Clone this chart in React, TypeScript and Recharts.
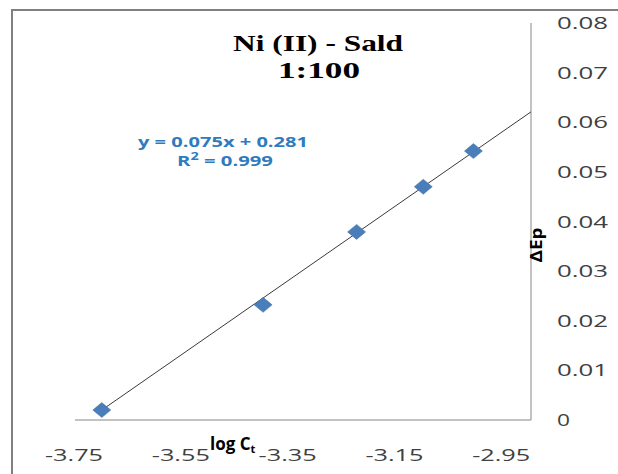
import React from 'react';
import { ScatterChart, Scatter, XAxis, YAxis } from 'recharts';

const xTicks = [-3.75, -3.55, -3.35, -3.15, -2.95];
const yTicks = [0, 0.01, 0.02, 0.03, 0.04, 0.05, 0.06, 0.07, 0.08];
const logC = [-3.703, -3.42, -3.256, -3.139, -3.051];
const deltaEp = [0.002, 0.0232, 0.0379, 0.047, 0.0542];
const trendX = [-3.703, -2.95];
const trendY = [0.002, 0.0621];

const points = logC.map((x, i) => ({ x, y: deltaEp[i] }));
const trend = trendX.map((x, i) => ({ x, y: trendY[i] }));

const W = 618;
const H = 474;

const Diamond = (props: any) => {
  const { cx, cy } = props;
  if (cx == null || cy == null) return <g />;
  const hw = 9;
  const hh = 7.5;
  return (
    <polygon
      points={`${cx - hw},${cy} ${cx},${cy - hh} ${cx + hw},${cy} ${cx},${cy + hh}`}
      fill="#4A7EBB"
      stroke="#3F6FA8"
      strokeWidth={0.5}
    />
  );
};

const NoShape = () => <g />;

const XTick = (props: any) => {
  const { x, y, payload, index } = props;
  const label = String(payload.value.toFixed(2));
  return (
    <text
      x={x - index * 7.2 - 1}
      y={y + 33}
      textAnchor="middle"
      fontFamily="Open Sans"
      fontSize={16}
      fill="#404040"
      textLength={58}
      lengthAdjust="spacingAndGlyphs"
    >
      {label}
    </text>
  );
};

const YTick = (props: any) => {
  const { x, y, payload } = props;
  const v = payload.value;
  const label = v === 0 ? '0' : v.toFixed(2);
  return (
    <text
      x={x + 18}
      y={y + 6}
      textAnchor="start"
      fontFamily="Open Sans"
      fontSize={16}
      fill="#404040"
      textLength={v === 0 ? 13 : 51}
      lengthAdjust="spacingAndGlyphs"
    >
      {label}
    </text>
  );
};

export default function App() {
  return (
    <div style={{ position: 'absolute', left: 0, top: 0, width: W, height: H, background: '#fff', overflow: 'hidden' }}>
      <div
        style={{
          position: 'absolute',
          left: 11,
          top: 9,
          width: W,
          height: H,
          borderTop: '2px solid #808080',
          borderLeft: '2px solid #808080',
          boxSizing: 'border-box',
        }}
      />
      <div style={{ position: 'absolute', left: 0, top: 0 }}>
        <ScatterChart width={W} height={H} margin={{ top: 23, right: 0, left: 75, bottom: 0 }}>
          <XAxis
            type="number"
            dataKey="x"
            domain={[-3.75, -2.95]}
            ticks={xTicks}
            axisLine={{ stroke: '#868686', strokeWidth: 1 }}
            tickLine={false}
            tick={<XTick />}
            height={54}
            allowDataOverflow
          />
          <YAxis
            type="number"
            dataKey="y"
            orientation="right"
            domain={[0, 0.08]}
            ticks={yTicks}
            axisLine={{ stroke: '#868686', strokeWidth: 1 }}
            tickLine={false}
            tick={<YTick />}
            width={87}
            allowDataOverflow
          />
          <Scatter
            data={trend}
            line={{ stroke: '#3a3a3a', strokeWidth: 1 }}
            shape={<NoShape />}
            isAnimationActive={false}
          />
          <Scatter data={points} shape={<Diamond />} isAnimationActive={false} />
        </ScatterChart>
      </div>
      <svg
        width={W}
        height={H}
        style={{ position: 'absolute', left: 0, top: 0, pointerEvents: 'none' }}
      >
        <text
          x={318}
          y={51}
          textAnchor="middle"
          fontFamily="Liberation Serif"
          fontWeight="bold"
          fontSize={24}
          fill="#000"
          textLength={170}
          lengthAdjust="spacingAndGlyphs"
        >
          Ni (II) - Sald
        </text>
        <text
          x={319}
          y={78}
          textAnchor="middle"
          fontFamily="Liberation Serif"
          fontWeight="bold"
          fontSize={24}
          fill="#000"
          textLength={82}
          lengthAdjust="spacingAndGlyphs"
        >
          1:100
        </text>
        <text
          x={223}
          y={146.5}
          textAnchor="middle"
          fontFamily="Open Sans"
          fontWeight="bold"
          fontSize={14}
          fill="#2F7BC0"
          textLength={170}
          lengthAdjust="spacingAndGlyphs"
        >
          y = 0.075x + 0.281
        </text>
        <text
          x={225}
          y={166}
          textAnchor="middle"
          fontFamily="Open Sans"
          fontWeight="bold"
          fontSize={14}
          fill="#2F7BC0"
          textLength={96}
          lengthAdjust="spacingAndGlyphs"
        >
          R<tspan fontSize={10} dy={-6}>2</tspan>
          <tspan dy={6}> = 0.999</tspan>
        </text>
        <text
          x={210}
          y={450}
          textAnchor="start"
          fontFamily="Open Sans"
          fontWeight="bold"
          fontSize={17}
          fill="#000"
        >
          log C<tspan fontSize={11} dy={3}>t</tspan>
        </text>
        <text
          x={0}
          y={0}
          transform="translate(542, 245) rotate(-90)"
          textAnchor="middle"
          fontFamily="Open Sans"
          fontWeight="bold"
          fontSize={16}
          fill="#000"
          textLength={35}
          lengthAdjust="spacingAndGlyphs"
        >
          ΔEp
        </text>
      </svg>
    </div>
  );
}
